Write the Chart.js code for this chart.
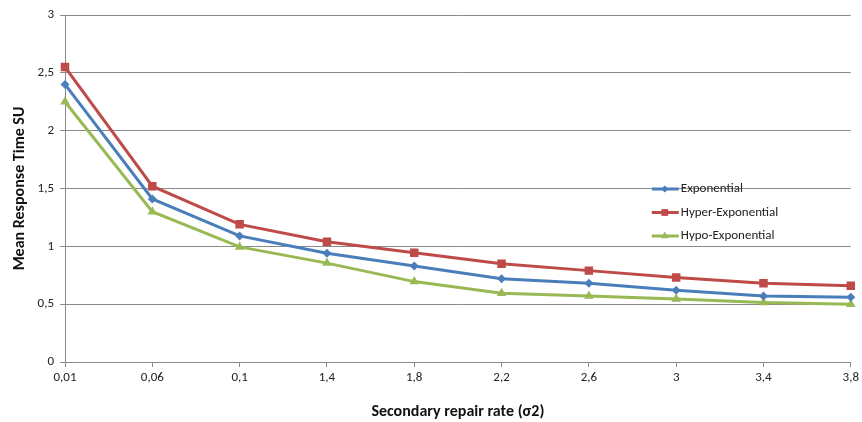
<!DOCTYPE html>
<html>
<head>
<meta charset="utf-8">
<script src="https://cdn.jsdelivr.net/npm/chart.js@4/dist/chart.umd.min.js"></script>
<style>
  html, body { margin: 0; padding: 0; background: #fff; }
  #wrap { width: 862px; height: 422px; position: relative; }
</style>
</head>
<body>
<div id="wrap"><canvas id="c" width="862" height="422"></canvas></div>
<script>
// Secondary repair rate categories (σ2)
const rates = ['0,01', '0,06', '0,1', '1,4', '1,8', '2,2', '2,6', '3', '3,4', '3,8'];

// Mean response time per distribution
const exponential      = [2.40, 1.41, 1.09, 0.94, 0.83, 0.72, 0.68, 0.62, 0.57, 0.56];
const hyperExponential = [2.55, 1.52, 1.19, 1.04, 0.945, 0.85, 0.79, 0.73, 0.68, 0.66];
const hypoExponential  = [2.25, 1.30, 0.995, 0.855, 0.695, 0.595, 0.57, 0.545, 0.515, 0.50];

const seriesNames = ['Exponential', 'Hyper-Exponential', 'Hypo-Exponential'];

const FONT = 'Carlito, Lato, "Liberation Sans", sans-serif';
const BLUE = '#4a7ebb', RED = '#be4b48', GREEN = '#98b954';

// Legend drawn inside the plot, to the right
const innerLegend = {
  id: 'innerLegend',
  afterDatasetsDraw(chart) {
    const ctx = chart.ctx;
    const x0 = chart.chartArea.right - 199;
    const y0 = chart.chartArea.top + 174;
    ctx.save();
    chart.data.datasets.forEach((ds, i) => {
      const y = y0 + i * 23.5;
      ctx.strokeStyle = ds.borderColor;
      ctx.lineWidth = 3;
      ctx.beginPath();
      ctx.moveTo(x0, y);
      ctx.lineTo(x0 + 27, y);
      ctx.stroke();
      ctx.fillStyle = ds.borderColor;
      Chart.helpers.drawPoint(ctx, {
        pointStyle: ds.pointStyle,
        radius: ds.pointRadius * 0.8,
        borderWidth: 0
      }, x0 + 13, y);
      ctx.fillStyle = '#222';
      ctx.font = '13px ' + FONT;
      ctx.textBaseline = 'middle';
      ctx.textAlign = 'left';
      ctx.fillText(ds.label, x0 + 29, y);
    });
    ctx.restore();
  }
};

new Chart(document.getElementById('c'), {
  type: 'line',
  data: {
    labels: rates,
    datasets: [
      { label: seriesNames[0], data: exponential, borderColor: BLUE, backgroundColor: BLUE,
        pointStyle: 'rectRot', pointRadius: 4.5 },
      { label: seriesNames[1], data: hyperExponential, borderColor: RED, backgroundColor: RED,
        pointStyle: 'rect', pointRadius: 6 },
      { label: seriesNames[2], data: hypoExponential, borderColor: GREEN, backgroundColor: GREEN,
        pointStyle: 'triangle', pointRadius: 5.5 }
    ].map(d => Object.assign({
      borderWidth: 3,
      tension: 0,
      pointBorderWidth: 0,
      pointHoverRadius: 6,
      fill: false
    }, d))
  },
  options: {
    responsive: false,
    animation: false,
    devicePixelRatio: 1,
    layout: { padding: { top: 15, right: 10, left: 0, bottom: 0 } },
    plugins: {
      legend: { display: false },
      tooltip: { enabled: false }
    },
    scales: {
      x: {
        offset: false,
        afterFit(s) { s.height = 60; },
        grid: { display: true, drawOnChartArea: false, drawTicks: true, tickLength: 5,
                color: '#8a8a8a', offset: false },
        border: { display: true, color: '#8a8a8a', width: 1 },
        ticks: { color: '#222', font: { family: FONT, size: 13 }, padding: 3,
                 maxRotation: 0, autoSkip: false },
        title: { display: true, text: 'Secondary repair rate (σ2)', color: '#111',
                 font: { family: FONT, size: 16, weight: 'bold' }, padding: { top: 12, bottom: 0 } }
      },
      y: {
        min: 0, max: 3,
        afterFit(s) { s.width = 65; },
        grid: { color: '#8a8a8a', lineWidth: 1, tickLength: 5, drawTicks: true },
        border: { display: true, color: '#8a8a8a', width: 1 },
        ticks: {
          stepSize: 0.5,
          color: '#222',
          font: { family: FONT, size: 13 },
          padding: 6,
          callback: v => String(v).replace('.', ',')
        },
        title: { display: true, text: 'Mean Response Time SU', color: '#111',
                 font: { family: FONT, size: 16, weight: 'bold' }, padding: { top: 10, bottom: 4 } }
      }
    }
  },
  plugins: [innerLegend]
});
</script>
</body>
</html>
